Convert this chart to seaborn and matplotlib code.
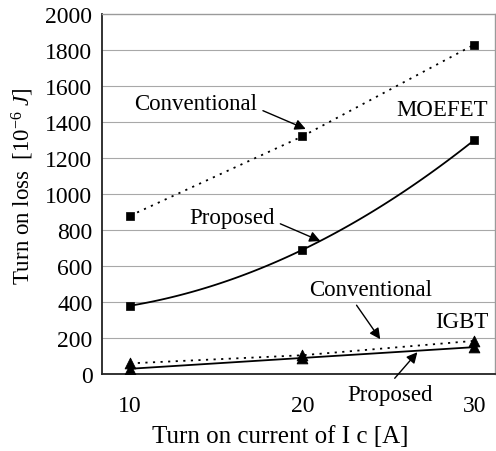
import numpy as np
import pandas as pd
import matplotlib
matplotlib.use("Agg")
import matplotlib.pyplot as plt
import seaborn as sns

# Turn-on current Ic [A]
current = [10, 20, 30]

# Turn-on loss [1e-6 J]
mosfet_conventional = [880, 1320, 1830]
mosfet_proposed = [380, 690, 1300]
igbt_conventional = [60, 105, 185]
igbt_proposed = [30, 90, 150]

y_ticks = [0, 200, 400, 600, 800, 1000, 1200, 1400, 1600, 1800, 2000]
x_ticks = [10, 20, 30]

sns.set_theme(style="white")
plt.rcParams["font.family"] = ["Liberation Serif", "DejaVu Serif"]
plt.rcParams["mathtext.fontset"] = "custom"
plt.rcParams["mathtext.rm"] = "Liberation Serif"
plt.rcParams["mathtext.it"] = "Liberation Serif:italic"

FS = 16.5

fig = plt.figure(figsize=(4.96, 4.52), dpi=100)
ax = fig.add_axes([0.206, 0.170, 0.792, 0.797])

# horizontal grid
for yv in y_ticks[1:-1]:
    ax.axhline(yv, color="#a8a8a8", lw=0.8, zorder=0)

# MOSFET conventional: dotted straight segments
sns.lineplot(x=current, y=mosfet_conventional, ax=ax, color="black",
             lw=1.3, linestyle=(0, (1.2, 3.0)), zorder=3)
sns.scatterplot(x=current, y=mosfet_conventional, ax=ax, color="black",
                marker="s", s=38, edgecolor="black", zorder=4)

# MOSFET proposed: smooth curve through the measured points
coef = np.polyfit(current, mosfet_proposed, 2)
xs = np.linspace(current[0], current[-1], 100)
sns.lineplot(x=xs, y=np.polyval(coef, xs), ax=ax, color="black", lw=1.3, zorder=3)
sns.scatterplot(x=current, y=mosfet_proposed, ax=ax, color="black",
                marker="s", s=38, edgecolor="black", zorder=4)

# IGBT
sns.lineplot(x=current, y=igbt_conventional, ax=ax, color="black",
             lw=1.3, linestyle=(0, (1.2, 3.0)), zorder=3)
sns.lineplot(x=current, y=igbt_proposed, ax=ax, color="black", lw=1.3, zorder=3)
sns.scatterplot(x=current, y=igbt_conventional, ax=ax, color="black",
                marker="^", s=60, edgecolor="black", zorder=4)
sns.scatterplot(x=current, y=igbt_proposed, ax=ax, color="black",
                marker="^", s=60, edgecolor="black", zorder=4)

ax.set_xlim(8.37, 31.2)
ax.set_ylim(0, 2000)
ax.set_xticks(x_ticks)
ax.set_xticklabels([str(v) for v in x_ticks])
ax.set_yticks(y_ticks)
ax.set_yticklabels([str(v) for v in y_ticks])
ax.tick_params(axis="y", length=0, pad=7, labelsize=FS + 0.5, colors="black")
ax.tick_params(axis="x", length=0, pad=15, labelsize=FS + 0.5, colors="black")

for side in ["left", "bottom"]:
    ax.spines[side].set_color("#222222")
    ax.spines[side].set_linewidth(1.3)
for side in ["top", "right"]:
    ax.spines[side].set_color("#9a9a9a")
    ax.spines[side].set_linewidth(1.0)

ax.set_xlabel("Turn on current of I c [A]", fontsize=18, color="black")
ax.xaxis.set_label_coords(0.453, -0.142)
ax.set_ylabel("Turn on loss  [10$^{-6}$ $J$]", fontsize=FS, color="black")
ax.yaxis.set_label_coords(-0.168, 0.525)

arrow = dict(arrowstyle="-|>", color="black", lw=1.0, mutation_scale=16,
             shrinkA=2, shrinkB=0)
txt = dict(fontsize=FS, color="black", ha="center", va="center")

ax.annotate("Conventional", xy=(20.2, 1361), xytext=(13.8, 1500),
            arrowprops=dict(arrow, relpos=(1.0, 0.3)), **txt)
ax.text(28.1, 1472, "MOEFET", **txt)
ax.annotate("Proposed", xy=(21.05, 739), xytext=(15.9, 872),
            arrowprops=dict(arrow, relpos=(1.0, 0.3)), **txt)
ax.annotate("Conventional", xy=(24.53, 194), xytext=(24.0, 472),
            arrowprops=dict(arrow, relpos=(0.35, 0.0)), **txt)
ax.text(29.3, 294, "IGBT", **txt)
ax.annotate("Proposed", xy=(26.69, 122), xytext=(25.1, -111),
            arrowprops=dict(arrow, relpos=(0.5, 1.0)), annotation_clip=False, **txt)

fig.savefig("out.png", dpi=100)
